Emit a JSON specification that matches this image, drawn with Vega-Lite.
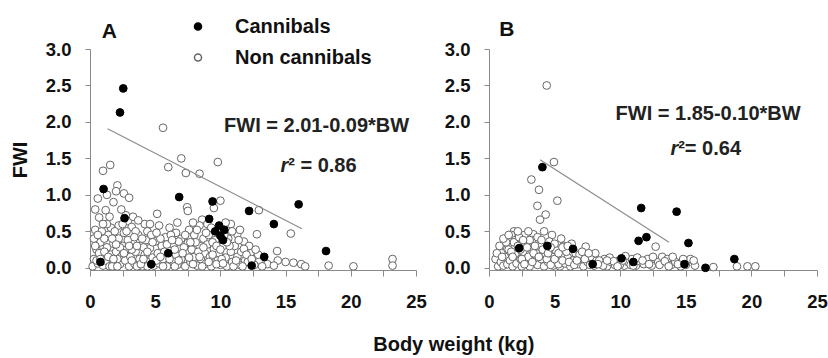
{
  "$schema": "https://vega.github.io/schema/vega-lite/v6.json",
  "padding": {"left": 10, "top": 16, "right": 0, "bottom": 3},
  "background": "white",
  "config": {
    "view": {"stroke": null},
    "font": "Liberation Sans",
    "axis": {"domainColor": "#8a8a8a", "tickColor": "#8a8a8a", "labelFont": "Liberation Sans", "labelFontWeight": "bold", "labelFontSize": 18.5, "labelColor": "#111111", "titleFont": "Liberation Sans", "titleColor": "#111111", "grid": false, "labelFlush": false, "labelOverlap": false},
    "concat": {"spacing": 17}
  },
  "title": {"text": "Body weight (kg)", "orient": "bottom", "anchor": "middle", "fontSize": 20, "fontWeight": "bold", "font": "Liberation Sans", "color": "#111111", "dx": 35, "offset": 24},
  "datasets": {
    "ptsA": [
      {"bw":5.6,"fwi":1.92,"group":"Non cannibals"},{"bw":1.0,"fwi":1.33,"group":"Non cannibals"},{"bw":1.55,"fwi":1.41,"group":"Non cannibals"},{"bw":7.0,"fwi":1.5,"group":"Non cannibals"},{"bw":6.0,"fwi":1.38,"group":"Non cannibals"},{"bw":7.35,"fwi":1.3,"group":"Non cannibals"},{"bw":8.4,"fwi":1.29,"group":"Non cannibals"},{"bw":9.8,"fwi":1.45,"group":"Non cannibals"},{"bw":2.1,"fwi":1.13,"group":"Non cannibals"},{"bw":2.6,"fwi":1.02,"group":"Non cannibals"},{"bw":3.0,"fwi":0.96,"group":"Non cannibals"},{"bw":1.8,"fwi":0.9,"group":"Non cannibals"},{"bw":1.2,"fwi":0.79,"group":"Non cannibals"},{"bw":0.7,"fwi":0.69,"group":"Non cannibals"},{"bw":2.75,"fwi":0.72,"group":"Non cannibals"},{"bw":2.9,"fwi":0.64,"group":"Non cannibals"},{"bw":5.15,"fwi":0.74,"group":"Non cannibals"},{"bw":7.45,"fwi":0.83,"group":"Non cannibals"},{"bw":7.5,"fwi":0.78,"group":"Non cannibals"},{"bw":10.0,"fwi":0.92,"group":"Non cannibals"},{"bw":8.6,"fwi":0.66,"group":"Non cannibals"},{"bw":9.5,"fwi":0.82,"group":"Non cannibals"},{"bw":11.3,"fwi":0.46,"group":"Non cannibals"},{"bw":12.8,"fwi":0.46,"group":"Non cannibals"},{"bw":15.4,"fwi":0.47,"group":"Non cannibals"},{"bw":12.95,"fwi":0.79,"group":"Non cannibals"},{"bw":14.35,"fwi":0.23,"group":"Non cannibals"},{"bw":14.4,"fwi":0.1,"group":"Non cannibals"},{"bw":15.0,"fwi":0.08,"group":"Non cannibals"},{"bw":15.6,"fwi":0.07,"group":"Non cannibals"},{"bw":16.2,"fwi":0.05,"group":"Non cannibals"},{"bw":16.5,"fwi":0.02,"group":"Non cannibals"},{"bw":18.3,"fwi":0.03,"group":"Non cannibals"},{"bw":20.2,"fwi":0.02,"group":"Non cannibals"},{"bw":23.2,"fwi":0.12,"group":"Non cannibals"},{"bw":23.2,"fwi":0.03,"group":"Non cannibals"},{"bw":10.8,"fwi":0.6,"group":"Non cannibals"},{"bw":8.4,"fwi":0.58,"group":"Non cannibals"},{"bw":1.6,"fwi":0.55,"group":"Non cannibals"},{"bw":0.4,"fwi":0.52,"group":"Non cannibals"},{"bw":2.2,"fwi":0.58,"group":"Non cannibals"},{"bw":3.2,"fwi":0.56,"group":"Non cannibals"},{"bw":4.4,"fwi":0.5,"group":"Non cannibals"},{"bw":6.1,"fwi":0.55,"group":"Non cannibals"},{"bw":6.6,"fwi":0.48,"group":"Non cannibals"},{"bw":7.6,"fwi":0.52,"group":"Non cannibals"},{"bw":9.0,"fwi":0.6,"group":"Non cannibals"},{"bw":10.4,"fwi":0.62,"group":"Non cannibals"},{"bw":11.8,"fwi":0.36,"group":"Non cannibals"},{"bw":12.3,"fwi":0.2,"group":"Non cannibals"},{"bw":13.0,"fwi":0.1,"group":"Non cannibals"},{"bw":13.6,"fwi":0.05,"group":"Non cannibals"},{"bw":14.1,"fwi":0.03,"group":"Non cannibals"},
      {"bw":0.2,"fwi":0.02,"group":"Non cannibals"},{"bw":0.3,"fwi":0.12,"group":"Non cannibals"},{"bw":0.5,"fwi":0.25,"group":"Non cannibals"},{"bw":0.6,"fwi":0.06,"group":"Non cannibals"},{"bw":0.8,"fwi":0.35,"group":"Non cannibals"},{"bw":0.9,"fwi":0.18,"group":"Non cannibals"},{"bw":1.0,"fwi":0.03,"group":"Non cannibals"},{"bw":1.2,"fwi":0.1,"group":"Non cannibals"},{"bw":1.3,"fwi":0.28,"group":"Non cannibals"},{"bw":1.4,"fwi":0.45,"group":"Non cannibals"},{"bw":1.5,"fwi":0.02,"group":"Non cannibals"},{"bw":1.6,"fwi":0.18,"group":"Non cannibals"},{"bw":1.8,"fwi":0.33,"group":"Non cannibals"},{"bw":1.9,"fwi":0.08,"group":"Non cannibals"},{"bw":2.0,"fwi":0.22,"group":"Non cannibals"},{"bw":2.2,"fwi":0.4,"group":"Non cannibals"},{"bw":2.3,"fwi":0.05,"group":"Non cannibals"},{"bw":2.4,"fwi":0.15,"group":"Non cannibals"},{"bw":2.5,"fwi":0.3,"group":"Non cannibals"},{"bw":2.6,"fwi":0.48,"group":"Non cannibals"},{"bw":2.7,"fwi":0.1,"group":"Non cannibals"},{"bw":2.8,"fwi":0.25,"group":"Non cannibals"},{"bw":3.0,"fwi":0.02,"group":"Non cannibals"},{"bw":3.1,"fwi":0.15,"group":"Non cannibals"},{"bw":3.3,"fwi":0.35,"group":"Non cannibals"},{"bw":3.4,"fwi":0.06,"group":"Non cannibals"},{"bw":3.5,"fwi":0.22,"group":"Non cannibals"},{"bw":3.7,"fwi":0.45,"group":"Non cannibals"},{"bw":3.8,"fwi":0.12,"group":"Non cannibals"},{"bw":3.9,"fwi":0.3,"group":"Non cannibals"},{"bw":4.0,"fwi":0.02,"group":"Non cannibals"},{"bw":4.2,"fwi":0.18,"group":"Non cannibals"},{"bw":4.3,"fwi":0.38,"group":"Non cannibals"},{"bw":4.5,"fwi":0.08,"group":"Non cannibals"},{"bw":4.6,"fwi":0.27,"group":"Non cannibals"},{"bw":4.8,"fwi":0.14,"group":"Non cannibals"},{"bw":4.9,"fwi":0.03,"group":"Non cannibals"},{"bw":5.0,"fwi":0.36,"group":"Non cannibals"},{"bw":5.2,"fwi":0.2,"group":"Non cannibals"},{"bw":5.3,"fwi":0.06,"group":"Non cannibals"},{"bw":5.5,"fwi":0.3,"group":"Non cannibals"},{"bw":5.6,"fwi":0.12,"group":"Non cannibals"},{"bw":5.8,"fwi":0.42,"group":"Non cannibals"},{"bw":5.9,"fwi":0.02,"group":"Non cannibals"},{"bw":6.0,"fwi":0.24,"group":"Non cannibals"},{"bw":6.3,"fwi":0.1,"group":"Non cannibals"},{"bw":6.4,"fwi":0.32,"group":"Non cannibals"},{"bw":6.6,"fwi":0.18,"group":"Non cannibals"},{"bw":6.7,"fwi":0.04,"group":"Non cannibals"},{"bw":6.9,"fwi":0.26,"group":"Non cannibals"},{"bw":7.0,"fwi":0.4,"group":"Non cannibals"},{"bw":7.0,"fwi":0.12,"group":"Non cannibals"},{"bw":7.3,"fwi":0.02,"group":"Non cannibals"},{"bw":7.4,"fwi":0.2,"group":"Non cannibals"},{"bw":7.5,"fwi":0.34,"group":"Non cannibals"},{"bw":7.7,"fwi":0.08,"group":"Non cannibals"},{"bw":7.8,"fwi":0.25,"group":"Non cannibals"},{"bw":8.0,"fwi":0.45,"group":"Non cannibals"},{"bw":8.0,"fwi":0.15,"group":"Non cannibals"},{"bw":8.2,"fwi":0.03,"group":"Non cannibals"},{"bw":8.4,"fwi":0.3,"group":"Non cannibals"},{"bw":8.5,"fwi":0.12,"group":"Non cannibals"},{"bw":8.7,"fwi":0.4,"group":"Non cannibals"},{"bw":8.8,"fwi":0.2,"group":"Non cannibals"},{"bw":8.9,"fwi":0.06,"group":"Non cannibals"},{"bw":9.0,"fwi":0.32,"group":"Non cannibals"},{"bw":9.2,"fwi":0.15,"group":"Non cannibals"},{"bw":9.3,"fwi":0.02,"group":"Non cannibals"},{"bw":9.5,"fwi":0.26,"group":"Non cannibals"},{"bw":9.6,"fwi":0.38,"group":"Non cannibals"},{"bw":9.8,"fwi":0.1,"group":"Non cannibals"},{"bw":9.9,"fwi":0.2,"group":"Non cannibals"},{"bw":10.0,"fwi":0.04,"group":"Non cannibals"},{"bw":10.2,"fwi":0.3,"group":"Non cannibals"},{"bw":10.4,"fwi":0.14,"group":"Non cannibals"},{"bw":10.5,"fwi":0.02,"group":"Non cannibals"},{"bw":10.6,"fwi":0.4,"group":"Non cannibals"},{"bw":10.8,"fwi":0.22,"group":"Non cannibals"},{"bw":10.9,"fwi":0.08,"group":"Non cannibals"},{"bw":11.1,"fwi":0.3,"group":"Non cannibals"},{"bw":11.3,"fwi":0.15,"group":"Non cannibals"},{"bw":11.5,"fwi":0.04,"group":"Non cannibals"},{"bw":11.6,"fwi":0.22,"group":"Non cannibals"},{"bw":11.9,"fwi":0.1,"group":"Non cannibals"},{"bw":12.2,"fwi":0.3,"group":"Non cannibals"},{"bw":12.6,"fwi":0.04,"group":"Non cannibals"},{"bw":12.9,"fwi":0.18,"group":"Non cannibals"},
      {"bw":0.3,"fwi":0.4,"group":"Non cannibals"},{"bw":0.5,"fwi":0.1,"group":"Non cannibals"},{"bw":0.7,"fwi":0.2,"group":"Non cannibals"},{"bw":1.1,"fwi":0.4,"group":"Non cannibals"},{"bw":1.3,"fwi":0.6,"group":"Non cannibals"},{"bw":1.7,"fwi":0.02,"group":"Non cannibals"},{"bw":2.1,"fwi":0.12,"group":"Non cannibals"},{"bw":2.3,"fwi":0.28,"group":"Non cannibals"},{"bw":2.9,"fwi":0.38,"group":"Non cannibals"},{"bw":3.2,"fwi":0.25,"group":"Non cannibals"},{"bw":3.6,"fwi":0.02,"group":"Non cannibals"},{"bw":4.1,"fwi":0.28,"group":"Non cannibals"},{"bw":4.4,"fwi":0.02,"group":"Non cannibals"},{"bw":4.7,"fwi":0.45,"group":"Non cannibals"},{"bw":5.1,"fwi":0.1,"group":"Non cannibals"},{"bw":5.4,"fwi":0.4,"group":"Non cannibals"},{"bw":5.7,"fwi":0.22,"group":"Non cannibals"},{"bw":6.2,"fwi":0.45,"group":"Non cannibals"},{"bw":6.5,"fwi":0.02,"group":"Non cannibals"},{"bw":6.8,"fwi":0.36,"group":"Non cannibals"},{"bw":7.2,"fwi":0.28,"group":"Non cannibals"},{"bw":7.6,"fwi":0.14,"group":"Non cannibals"},{"bw":8.1,"fwi":0.35,"group":"Non cannibals"},{"bw":8.3,"fwi":0.22,"group":"Non cannibals"},{"bw":8.6,"fwi":0.02,"group":"Non cannibals"},{"bw":9.1,"fwi":0.45,"group":"Non cannibals"},{"bw":9.4,"fwi":0.35,"group":"Non cannibals"},{"bw":9.7,"fwi":0.05,"group":"Non cannibals"},{"bw":10.1,"fwi":0.12,"group":"Non cannibals"},{"bw":10.3,"fwi":0.45,"group":"Non cannibals"},{"bw":10.7,"fwi":0.3,"group":"Non cannibals"},{"bw":11.0,"fwi":0.02,"group":"Non cannibals"},{"bw":11.4,"fwi":0.38,"group":"Non cannibals"},{"bw":11.8,"fwi":0.26,"group":"Non cannibals"},{"bw":12.1,"fwi":0.08,"group":"Non cannibals"},{"bw":0.9,"fwi":0.5,"group":"Non cannibals"},{"bw":1.9,"fwi":0.5,"group":"Non cannibals"},{"bw":3.5,"fwi":0.5,"group":"Non cannibals"},{"bw":4.2,"fwi":0.6,"group":"Non cannibals"},{"bw":5.3,"fwi":0.58,"group":"Non cannibals"},{"bw":6.7,"fwi":0.62,"group":"Non cannibals"},{"bw":7.9,"fwi":0.62,"group":"Non cannibals"},{"bw":9.3,"fwi":0.55,"group":"Non cannibals"},{"bw":0.4,"fwi":0.8,"group":"Non cannibals"},{"bw":1.5,"fwi":0.7,"group":"Non cannibals"},{"bw":2.4,"fwi":0.8,"group":"Non cannibals"},{"bw":3.3,"fwi":0.7,"group":"Non cannibals"},{"bw":0.6,"fwi":0.95,"group":"Non cannibals"},{"bw":1.3,"fwi":1.0,"group":"Non cannibals"},{"bw":2.0,"fwi":1.05,"group":"Non cannibals"},{"bw":3.7,"fwi":0.65,"group":"Non cannibals"},
      {"bw":0.4,"fwi":0.3,"group":"Non cannibals"},{"bw":0.6,"fwi":0.45,"group":"Non cannibals"},{"bw":0.8,"fwi":0.12,"group":"Non cannibals"},{"bw":1.0,"fwi":0.6,"group":"Non cannibals"},{"bw":1.1,"fwi":0.22,"group":"Non cannibals"},{"bw":1.4,"fwi":0.15,"group":"Non cannibals"},{"bw":1.7,"fwi":0.4,"group":"Non cannibals"},{"bw":1.8,"fwi":0.12,"group":"Non cannibals"},{"bw":2.0,"fwi":0.32,"group":"Non cannibals"},{"bw":2.1,"fwi":0.02,"group":"Non cannibals"},{"bw":2.5,"fwi":0.6,"group":"Non cannibals"},{"bw":2.6,"fwi":0.2,"group":"Non cannibals"},{"bw":2.8,"fwi":0.5,"group":"Non cannibals"},{"bw":3.0,"fwi":0.3,"group":"Non cannibals"},{"bw":3.2,"fwi":0.1,"group":"Non cannibals"},{"bw":3.4,"fwi":0.42,"group":"Non cannibals"},{"bw":3.6,"fwi":0.3,"group":"Non cannibals"},{"bw":3.9,"fwi":0.05,"group":"Non cannibals"},{"bw":4.0,"fwi":0.4,"group":"Non cannibals"},{"bw":4.1,"fwi":0.12,"group":"Non cannibals"},{"bw":4.4,"fwi":0.22,"group":"Non cannibals"},{"bw":4.6,"fwi":0.6,"group":"Non cannibals"},{"bw":4.8,"fwi":0.35,"group":"Non cannibals"},{"bw":5.1,"fwi":0.48,"group":"Non cannibals"},{"bw":5.4,"fwi":0.15,"group":"Non cannibals"},{"bw":5.6,"fwi":0.02,"group":"Non cannibals"},{"bw":5.9,"fwi":0.32,"group":"Non cannibals"},{"bw":6.1,"fwi":0.12,"group":"Non cannibals"},{"bw":6.3,"fwi":0.38,"group":"Non cannibals"},{"bw":6.5,"fwi":0.25,"group":"Non cannibals"},{"bw":6.8,"fwi":0.1,"group":"Non cannibals"},{"bw":7.1,"fwi":0.2,"group":"Non cannibals"},{"bw":7.3,"fwi":0.45,"group":"Non cannibals"},{"bw":7.7,"fwi":0.35,"group":"Non cannibals"},{"bw":7.9,"fwi":0.05,"group":"Non cannibals"},{"bw":8.2,"fwi":0.52,"group":"Non cannibals"},{"bw":8.4,"fwi":0.15,"group":"Non cannibals"},{"bw":8.7,"fwi":0.28,"group":"Non cannibals"},{"bw":8.9,"fwi":0.48,"group":"Non cannibals"},{"bw":9.1,"fwi":0.08,"group":"Non cannibals"},{"bw":9.4,"fwi":0.18,"group":"Non cannibals"},{"bw":9.7,"fwi":0.3,"group":"Non cannibals"},{"bw":10.0,"fwi":0.25,"group":"Non cannibals"},{"bw":10.2,"fwi":0.06,"group":"Non cannibals"},{"bw":10.5,"fwi":0.35,"group":"Non cannibals"},{"bw":10.9,"fwi":0.5,"group":"Non cannibals"},{"bw":11.2,"fwi":0.1,"group":"Non cannibals"},{"bw":11.5,"fwi":0.52,"group":"Non cannibals"},{"bw":11.7,"fwi":0.02,"group":"Non cannibals"},{"bw":12.0,"fwi":0.18,"group":"Non cannibals"},{"bw":12.4,"fwi":0.12,"group":"Non cannibals"},{"bw":12.7,"fwi":0.25,"group":"Non cannibals"},{"bw":13.2,"fwi":0.02,"group":"Non cannibals"},
      {"bw":2.55,"fwi":2.46,"group":"Cannibals"},{"bw":2.3,"fwi":2.13,"group":"Cannibals"},{"bw":1.04,"fwi":1.08,"group":"Cannibals"},{"bw":6.84,"fwi":0.97,"group":"Cannibals"},{"bw":9.4,"fwi":0.91,"group":"Cannibals"},{"bw":12.2,"fwi":0.78,"group":"Cannibals"},{"bw":16.0,"fwi":0.87,"group":"Cannibals"},{"bw":9.14,"fwi":0.67,"group":"Cannibals"},{"bw":14.1,"fwi":0.6,"group":"Cannibals"},{"bw":9.6,"fwi":0.5,"group":"Cannibals"},{"bw":10.0,"fwi":0.44,"group":"Cannibals"},{"bw":10.3,"fwi":0.52,"group":"Cannibals"},{"bw":9.9,"fwi":0.58,"group":"Cannibals"},{"bw":10.2,"fwi":0.38,"group":"Cannibals"},{"bw":18.1,"fwi":0.23,"group":"Cannibals"},{"bw":13.36,"fwi":0.15,"group":"Cannibals"},{"bw":12.4,"fwi":0.03,"group":"Cannibals"},{"bw":6.0,"fwi":0.2,"group":"Cannibals"},{"bw":2.65,"fwi":0.68,"group":"Cannibals"},{"bw":0.8,"fwi":0.08,"group":"Cannibals"},{"bw":4.7,"fwi":0.05,"group":"Cannibals"}
    ],
    "ptsB": [
      {"bw":4.4,"fwi":2.5,"group":"Non cannibals"},{"bw":4.95,"fwi":1.45,"group":"Non cannibals"},{"bw":3.23,"fwi":1.21,"group":"Non cannibals"},{"bw":3.81,"fwi":1.07,"group":"Non cannibals"},{"bw":5.21,"fwi":0.92,"group":"Non cannibals"},{"bw":3.69,"fwi":0.85,"group":"Non cannibals"},{"bw":4.32,"fwi":0.73,"group":"Non cannibals"},{"bw":3.89,"fwi":0.66,"group":"Non cannibals"},{"bw":1.9,"fwi":0.5,"group":"Non cannibals"},{"bw":3.38,"fwi":0.46,"group":"Non cannibals"},{"bw":4.8,"fwi":0.45,"group":"Non cannibals"},{"bw":1.7,"fwi":0.45,"group":"Non cannibals"},{"bw":2.0,"fwi":0.38,"group":"Non cannibals"},{"bw":2.7,"fwi":0.45,"group":"Non cannibals"},{"bw":3.0,"fwi":0.5,"group":"Non cannibals"},{"bw":5.5,"fwi":0.4,"group":"Non cannibals"},{"bw":6.3,"fwi":0.33,"group":"Non cannibals"},{"bw":1.0,"fwi":0.3,"group":"Non cannibals"},{"bw":0.5,"fwi":0.12,"group":"Non cannibals"},{"bw":1.4,"fwi":0.26,"group":"Non cannibals"},
      {"bw":0.7,"fwi":0.02,"group":"Non cannibals"},{"bw":0.9,"fwi":0.08,"group":"Non cannibals"},{"bw":1.1,"fwi":0.03,"group":"Non cannibals"},{"bw":1.2,"fwi":0.15,"group":"Non cannibals"},{"bw":1.4,"fwi":0.05,"group":"Non cannibals"},{"bw":1.5,"fwi":0.25,"group":"Non cannibals"},{"bw":1.6,"fwi":0.1,"group":"Non cannibals"},{"bw":1.8,"fwi":0.02,"group":"Non cannibals"},{"bw":1.9,"fwi":0.35,"group":"Non cannibals"},{"bw":2.0,"fwi":0.18,"group":"Non cannibals"},{"bw":2.1,"fwi":0.06,"group":"Non cannibals"},{"bw":2.3,"fwi":0.42,"group":"Non cannibals"},{"bw":2.4,"fwi":0.12,"group":"Non cannibals"},{"bw":2.5,"fwi":0.02,"group":"Non cannibals"},{"bw":2.6,"fwi":0.22,"group":"Non cannibals"},{"bw":2.8,"fwi":0.32,"group":"Non cannibals"},{"bw":2.9,"fwi":0.08,"group":"Non cannibals"},{"bw":3.0,"fwi":0.15,"group":"Non cannibals"},{"bw":3.1,"fwi":0.02,"group":"Non cannibals"},{"bw":3.2,"fwi":0.26,"group":"Non cannibals"},{"bw":3.3,"fwi":0.38,"group":"Non cannibals"},{"bw":3.5,"fwi":0.1,"group":"Non cannibals"},{"bw":3.6,"fwi":0.2,"group":"Non cannibals"},{"bw":3.7,"fwi":0.04,"group":"Non cannibals"},{"bw":3.9,"fwi":0.3,"group":"Non cannibals"},{"bw":4.0,"fwi":0.12,"group":"Non cannibals"},{"bw":4.2,"fwi":0.02,"group":"Non cannibals"},{"bw":4.3,"fwi":0.2,"group":"Non cannibals"},{"bw":4.5,"fwi":0.08,"group":"Non cannibals"},{"bw":4.6,"fwi":0.36,"group":"Non cannibals"},{"bw":4.8,"fwi":0.15,"group":"Non cannibals"},{"bw":4.9,"fwi":0.03,"group":"Non cannibals"},{"bw":5.1,"fwi":0.24,"group":"Non cannibals"},{"bw":5.2,"fwi":0.1,"group":"Non cannibals"},{"bw":5.4,"fwi":0.02,"group":"Non cannibals"},{"bw":5.5,"fwi":0.17,"group":"Non cannibals"},{"bw":5.7,"fwi":0.3,"group":"Non cannibals"},{"bw":5.8,"fwi":0.06,"group":"Non cannibals"},{"bw":6.0,"fwi":0.14,"group":"Non cannibals"},{"bw":6.2,"fwi":0.02,"group":"Non cannibals"},{"bw":6.4,"fwi":0.1,"group":"Non cannibals"},{"bw":6.6,"fwi":0.2,"group":"Non cannibals"},{"bw":6.8,"fwi":0.05,"group":"Non cannibals"},{"bw":7.0,"fwi":0.12,"group":"Non cannibals"},{"bw":7.2,"fwi":0.02,"group":"Non cannibals"},{"bw":7.37,"fwi":0.29,"group":"Non cannibals"},{"bw":7.5,"fwi":0.08,"group":"Non cannibals"},{"bw":7.8,"fwi":0.15,"group":"Non cannibals"},{"bw":8.0,"fwi":0.03,"group":"Non cannibals"},{"bw":8.2,"fwi":0.1,"group":"Non cannibals"},{"bw":8.5,"fwi":0.05,"group":"Non cannibals"},{"bw":8.8,"fwi":0.12,"group":"Non cannibals"},{"bw":9.0,"fwi":0.02,"group":"Non cannibals"},{"bw":9.3,"fwi":0.08,"group":"Non cannibals"},{"bw":9.6,"fwi":0.04,"group":"Non cannibals"},{"bw":9.9,"fwi":0.1,"group":"Non cannibals"},{"bw":10.3,"fwi":0.03,"group":"Non cannibals"},{"bw":10.6,"fwi":0.08,"group":"Non cannibals"},{"bw":10.9,"fwi":0.12,"group":"Non cannibals"},{"bw":11.2,"fwi":0.03,"group":"Non cannibals"},{"bw":11.5,"fwi":0.09,"group":"Non cannibals"},{"bw":11.8,"fwi":0.05,"group":"Non cannibals"},{"bw":12.1,"fwi":0.12,"group":"Non cannibals"},{"bw":12.4,"fwi":0.03,"group":"Non cannibals"},{"bw":12.7,"fwi":0.29,"group":"Non cannibals"},{"bw":12.9,"fwi":0.08,"group":"Non cannibals"},{"bw":13.2,"fwi":0.15,"group":"Non cannibals"},{"bw":13.6,"fwi":0.12,"group":"Non cannibals"},{"bw":13.9,"fwi":0.04,"group":"Non cannibals"},{"bw":14.2,"fwi":0.08,"group":"Non cannibals"},{"bw":14.6,"fwi":0.02,"group":"Non cannibals"},{"bw":15.35,"fwi":0.12,"group":"Non cannibals"},{"bw":15.7,"fwi":0.03,"group":"Non cannibals"},{"bw":17.1,"fwi":0.01,"group":"Non cannibals"},{"bw":18.9,"fwi":0.02,"group":"Non cannibals"},{"bw":19.7,"fwi":0.02,"group":"Non cannibals"},{"bw":20.3,"fwi":0.02,"group":"Non cannibals"},
      {"bw":0.6,"fwi":0.2,"group":"Non cannibals"},{"bw":1.0,"fwi":0.15,"group":"Non cannibals"},{"bw":1.3,"fwi":0.35,"group":"Non cannibals"},{"bw":1.7,"fwi":0.22,"group":"Non cannibals"},{"bw":2.2,"fwi":0.3,"group":"Non cannibals"},{"bw":2.5,"fwi":0.12,"group":"Non cannibals"},{"bw":2.7,"fwi":0.05,"group":"Non cannibals"},{"bw":3.1,"fwi":0.38,"group":"Non cannibals"},{"bw":3.4,"fwi":0.2,"group":"Non cannibals"},{"bw":3.8,"fwi":0.15,"group":"Non cannibals"},{"bw":4.1,"fwi":0.25,"group":"Non cannibals"},{"bw":4.4,"fwi":0.12,"group":"Non cannibals"},{"bw":4.7,"fwi":0.04,"group":"Non cannibals"},{"bw":5.0,"fwi":0.33,"group":"Non cannibals"},{"bw":5.3,"fwi":0.05,"group":"Non cannibals"},{"bw":5.6,"fwi":0.1,"group":"Non cannibals"},{"bw":5.9,"fwi":0.22,"group":"Non cannibals"},{"bw":6.1,"fwi":0.08,"group":"Non cannibals"},{"bw":6.5,"fwi":0.04,"group":"Non cannibals"},{"bw":6.9,"fwi":0.18,"group":"Non cannibals"},{"bw":7.3,"fwi":0.12,"group":"Non cannibals"},{"bw":7.7,"fwi":0.04,"group":"Non cannibals"},{"bw":8.1,"fwi":0.2,"group":"Non cannibals"},{"bw":8.4,"fwi":0.1,"group":"Non cannibals"},{"bw":8.7,"fwi":0.03,"group":"Non cannibals"},{"bw":9.2,"fwi":0.14,"group":"Non cannibals"},{"bw":9.5,"fwi":0.09,"group":"Non cannibals"},{"bw":10.0,"fwi":0.05,"group":"Non cannibals"},{"bw":10.4,"fwi":0.16,"group":"Non cannibals"},{"bw":10.8,"fwi":0.04,"group":"Non cannibals"},{"bw":11.3,"fwi":0.14,"group":"Non cannibals"},{"bw":11.7,"fwi":0.1,"group":"Non cannibals"},{"bw":12.2,"fwi":0.05,"group":"Non cannibals"},{"bw":13.0,"fwi":0.04,"group":"Non cannibals"},{"bw":13.4,"fwi":0.09,"group":"Non cannibals"},{"bw":14.0,"fwi":0.15,"group":"Non cannibals"},{"bw":14.4,"fwi":0.05,"group":"Non cannibals"},{"bw":15.0,"fwi":0.04,"group":"Non cannibals"},{"bw":15.6,"fwi":0.1,"group":"Non cannibals"},
      {"bw":0.8,"fwi":0.3,"group":"Non cannibals"},{"bw":1.1,"fwi":0.4,"group":"Non cannibals"},{"bw":1.5,"fwi":0.45,"group":"Non cannibals"},{"bw":1.8,"fwi":0.15,"group":"Non cannibals"},{"bw":2.2,"fwi":0.5,"group":"Non cannibals"},{"bw":2.4,"fwi":0.25,"group":"Non cannibals"},{"bw":2.6,"fwi":0.38,"group":"Non cannibals"},{"bw":2.9,"fwi":0.28,"group":"Non cannibals"},{"bw":3.3,"fwi":0.08,"group":"Non cannibals"},{"bw":3.5,"fwi":0.3,"group":"Non cannibals"},{"bw":3.7,"fwi":0.42,"group":"Non cannibals"},{"bw":4.0,"fwi":0.38,"group":"Non cannibals"},{"bw":4.2,"fwi":0.5,"group":"Non cannibals"},{"bw":4.5,"fwi":0.2,"group":"Non cannibals"},{"bw":4.7,"fwi":0.28,"group":"Non cannibals"},{"bw":5.0,"fwi":0.12,"group":"Non cannibals"},{"bw":5.3,"fwi":0.2,"group":"Non cannibals"},{"bw":5.6,"fwi":0.28,"group":"Non cannibals"},{"bw":6.0,"fwi":0.3,"group":"Non cannibals"},{"bw":6.7,"fwi":0.1,"group":"Non cannibals"},{"bw":7.1,"fwi":0.22,"group":"Non cannibals"},{"bw":7.6,"fwi":0.2,"group":"Non cannibals"},{"bw":8.3,"fwi":0.05,"group":"Non cannibals"},{"bw":9.0,"fwi":0.1,"group":"Non cannibals"},{"bw":9.8,"fwi":0.02,"group":"Non cannibals"},{"bw":10.2,"fwi":0.1,"group":"Non cannibals"},{"bw":11.0,"fwi":0.03,"group":"Non cannibals"},{"bw":12.5,"fwi":0.15,"group":"Non cannibals"},{"bw":13.7,"fwi":0.02,"group":"Non cannibals"},{"bw":14.8,"fwi":0.12,"group":"Non cannibals"},
      {"bw":4.07,"fwi":1.38,"group":"Cannibals"},{"bw":11.6,"fwi":0.82,"group":"Cannibals"},{"bw":14.3,"fwi":0.77,"group":"Cannibals"},{"bw":11.4,"fwi":0.37,"group":"Cannibals"},{"bw":12.0,"fwi":0.42,"group":"Cannibals"},{"bw":15.2,"fwi":0.34,"group":"Cannibals"},{"bw":6.4,"fwi":0.26,"group":"Cannibals"},{"bw":2.3,"fwi":0.27,"group":"Cannibals"},{"bw":4.45,"fwi":0.3,"group":"Cannibals"},{"bw":10.1,"fwi":0.13,"group":"Cannibals"},{"bw":16.5,"fwi":0.0,"group":"Cannibals"},{"bw":18.7,"fwi":0.12,"group":"Cannibals"},{"bw":14.9,"fwi":0.05,"group":"Cannibals"},{"bw":11.0,"fwi":0.08,"group":"Cannibals"},{"bw":7.9,"fwi":0.05,"group":"Cannibals"}
    ],
    "lineA": [{"bw":1.35,"fwi":1.907},{"bw":16.25,"fwi":0.535}],
    "lineB": [{"bw":3.89,"fwi":1.48},{"bw":13.72,"fwi":0.35}],
    "textA": [{"bw":17.38,"fwi":1.95,"label":"FWI = 2.01-0.09*BW"}],
    "rA": [{"bw":15.2,"fwi":1.4,"label":"r"}],
    "r2A": [{"bw":15.2,"fwi":1.4,"label":"² = 0.86"}],
    "panelA": [{"bw":1.48,"fwi":3.23,"label":"A"}],
    "textB": [{"bw":16.7,"fwi":2.11,"label":"FWI = 1.85-0.10*BW"}],
    "rB": [{"bw":14.42,"fwi":1.63,"label":"r"}],
    "r2B": [{"bw":14.42,"fwi":1.63,"label":"²= 0.64"}],
    "panelB": [{"bw":1.35,"fwi":3.26,"label":"B"}]
  },
  "resolve": {"scale": {"fill": "independent", "stroke": "independent"}, "legend": {"fill": "independent", "stroke": "independent"}},
  "hconcat": [
    {
      "width": 326,
      "height": 221,
      "encoding": {
        "x": {"field": "bw", "type": "quantitative", "scale": {"domain": [0, 25], "nice": false, "zero": false},
              "axis": {"title": null, "values": [0, 2.5, 5, 7.5, 10, 12.5, 15, 17.5, 20, 22.5, 25], "labelExpr": "datum.value % 5 == 0 ? datum.label : ''", "tickSize": 6, "labelPadding": 16}},
        "y": {"field": "fwi", "type": "quantitative", "scale": {"domain": [-0.03, 3], "nice": false, "zero": false},
              "axis": {"title": "FWI", "values": [0, 0.5, 1, 1.5, 2, 2.5, 3], "format": ".1f", "tickSize": 5, "labelPadding": 14, "titleFontSize": 20, "titleFontWeight": "bold", "titlePadding": 15}}
      },
      "layer": [
        {
          "data": {"name": "ptsA"},
          "mark": {"type": "circle", "size": 60, "strokeWidth": 1, "opacity": 1},
          "encoding": {
            "fill": {"field": "group", "type": "nominal", "scale": {"domain": ["Cannibals", "Non cannibals"], "range": ["#000000", "#ffffff"]},
                     "legend": {"orient": "none", "legendX": 98, "legendY": -32.5, "title": null, "symbolType": "circle", "symbolSize": 50, "labelFontSize": 20, "labelFont": "Liberation Sans", "labelFontWeight": "bold", "labelColor": "#111111", "labelOffset": 27, "rowPadding": 11}},
            "stroke": {"field": "group", "type": "nominal", "scale": {"domain": ["Cannibals", "Non cannibals"], "range": ["#000000", "#666666"]},
                     "legend": {"orient": "none", "legendX": 98, "legendY": -32.5, "title": null, "symbolType": "circle", "symbolSize": 50, "labelFontSize": 20, "labelFont": "Liberation Sans", "labelFontWeight": "bold", "labelColor": "#111111", "labelOffset": 27, "rowPadding": 11}}
          }
        },
        {"data": {"name": "lineA"}, "mark": {"type": "line", "color": "#8c8c8c", "strokeWidth": 1.2}, "encoding": {}},
        {"data": {"name": "textA"}, "mark": {"type": "text", "align": "center", "baseline": "middle", "fontSize": 20, "fontWeight": "bold", "font": "Liberation Sans", "color": "#222222"}, "encoding": {"text": {"field": "label"}}},
        {"data": {"name": "rA"}, "mark": {"type": "text", "align": "right", "baseline": "middle", "fontSize": 20, "fontWeight": "bold", "fontStyle": "italic", "font": "Liberation Sans", "color": "#222222"}, "encoding": {"text": {"field": "label"}}},
        {"data": {"name": "r2A"}, "mark": {"type": "text", "align": "left", "baseline": "middle", "fontSize": 20, "fontWeight": "bold", "font": "Liberation Sans", "color": "#222222"}, "encoding": {"text": {"field": "label"}}},
        {"data": {"name": "panelA"}, "mark": {"type": "text", "align": "center", "baseline": "middle", "fontSize": 21, "fontWeight": "bold", "font": "Liberation Sans", "color": "#111111"}, "encoding": {"text": {"field": "label"}}}
      ]
    },
    {
      "width": 328,
      "height": 221,
      "encoding": {
        "x": {"field": "bw", "type": "quantitative", "scale": {"domain": [0, 25], "nice": false, "zero": false},
              "axis": {"title": null, "values": [0, 2.5, 5, 7.5, 10, 12.5, 15, 17.5, 20, 22.5, 25], "labelExpr": "datum.value % 5 == 0 ? datum.label : ''", "tickSize": 6, "labelPadding": 16}},
        "y": {"field": "fwi", "type": "quantitative", "scale": {"domain": [-0.03, 3], "nice": false, "zero": false},
              "axis": {"title": null, "values": [0, 0.5, 1, 1.5, 2, 2.5, 3], "format": ".1f", "tickSize": 5, "labelPadding": 14}}
      },
      "layer": [
        {
          "data": {"name": "ptsB"},
          "mark": {"type": "circle", "size": 60, "strokeWidth": 1, "opacity": 1},
          "encoding": {
            "fill": {"field": "group", "type": "nominal", "scale": {"domain": ["Cannibals", "Non cannibals"], "range": ["#000000", "#ffffff"]}, "legend": null},
            "stroke": {"field": "group", "type": "nominal", "scale": {"domain": ["Cannibals", "Non cannibals"], "range": ["#000000", "#666666"]}, "legend": null}
          }
        },
        {"data": {"name": "lineB"}, "mark": {"type": "line", "color": "#8c8c8c", "strokeWidth": 1.2}, "encoding": {}},
        {"data": {"name": "textB"}, "mark": {"type": "text", "align": "center", "baseline": "middle", "fontSize": 20, "fontWeight": "bold", "font": "Liberation Sans", "color": "#222222"}, "encoding": {"text": {"field": "label"}}},
        {"data": {"name": "rB"}, "mark": {"type": "text", "align": "right", "baseline": "middle", "fontSize": 20, "fontWeight": "bold", "fontStyle": "italic", "font": "Liberation Sans", "color": "#222222"}, "encoding": {"text": {"field": "label"}}},
        {"data": {"name": "r2B"}, "mark": {"type": "text", "align": "left", "baseline": "middle", "fontSize": 20, "fontWeight": "bold", "font": "Liberation Sans", "color": "#222222"}, "encoding": {"text": {"field": "label"}}},
        {"data": {"name": "panelB"}, "mark": {"type": "text", "align": "center", "baseline": "middle", "fontSize": 21, "fontWeight": "bold", "font": "Liberation Sans", "color": "#111111"}, "encoding": {"text": {"field": "label"}}}
      ]
    }
  ]
}
